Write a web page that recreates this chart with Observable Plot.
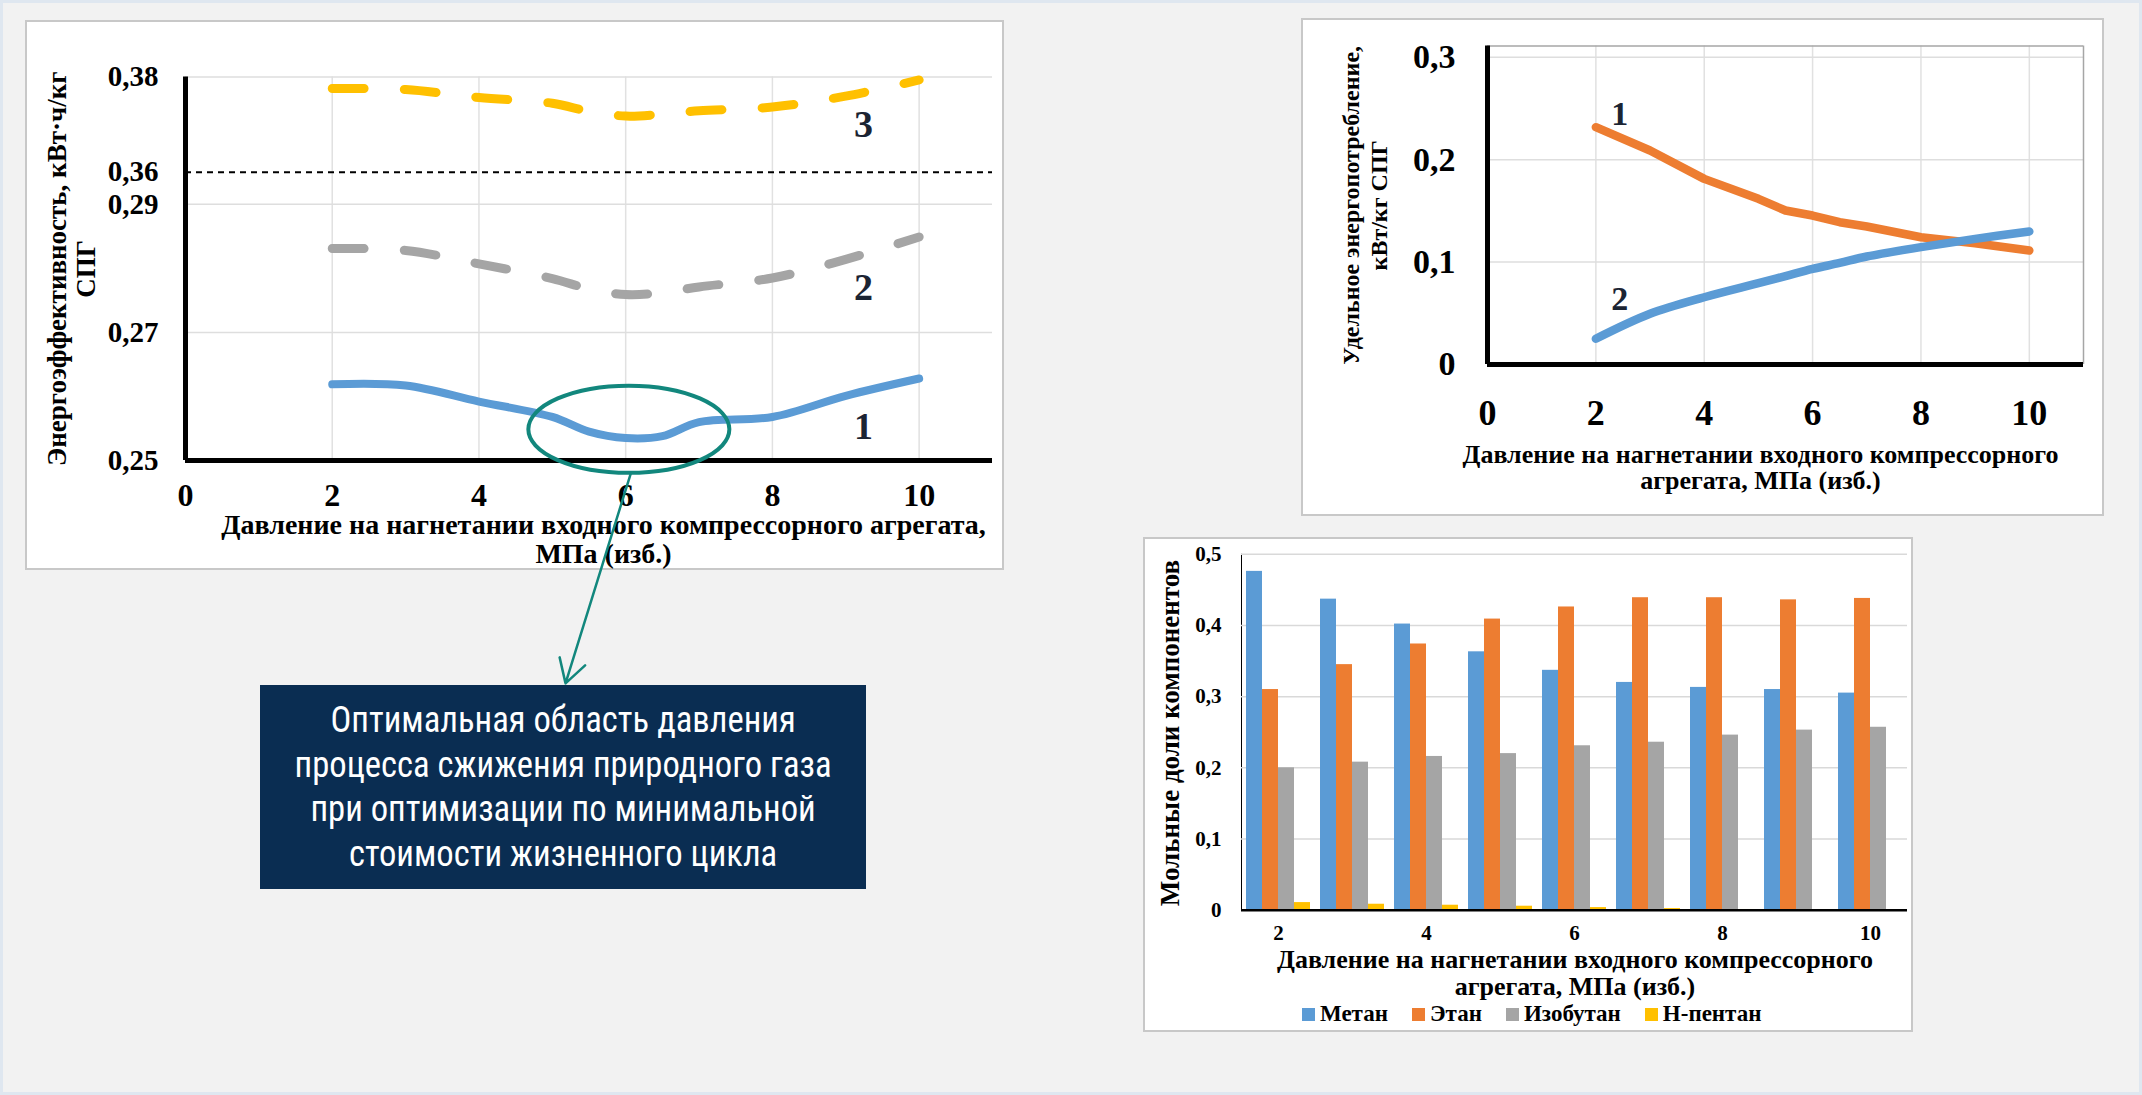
<!DOCTYPE html>
<html>
<head>
<meta charset="utf-8">
<script src="https://cdn.jsdelivr.net/npm/d3@7"></script>
<script src="https://cdn.jsdelivr.net/npm/@observablehq/plot@0.6"></script>
<style>
html, body { margin: 0; padding: 0; width: 2142px; height: 1095px; overflow: hidden; background: #f2f2f2; }
#frame { position: absolute; left: 0; top: 0; width: 2142px; height: 1095px; box-sizing: border-box; border: 3px solid #dfe7f0; }
.panel { position: absolute; box-sizing: border-box; background: #fff; border: 2px solid #c8c8c8; }
.chart { position: absolute; }
.chart svg { display: block; overflow: visible; }
.serif { font-family: "Liberation Serif", "Times New Roman", serif; font-weight: bold; color: #000; }
#callout { position: absolute; left: 260px; top: 685px; width: 606px; height: 204px; background: #0a2d52; color: #fff;
  display: flex; align-items: center; justify-content: center; }
#callout .txt { font-family: "Roboto Condensed", "Open Sans", "Noto Sans", Roboto, sans-serif; font-stretch: condensed;
  font-size: 36px; line-height: 44.5px; text-align: center; white-space: nowrap; transform-origin: center; }
#p3ytitle { position: absolute; left: 1170px; top: 733px; writing-mode: vertical-rl; transform: translate(-50%, -50%) rotate(180deg);
  white-space: nowrap; font-size: 27px; line-height: 30px; }
#p3xtitle { position: absolute; left: 1575px; top: 946px; transform: translateX(-50%); white-space: nowrap; font-size: 26px; line-height: 27px; text-align: center; }
#legend { position: absolute; left: 1302px; top: 1002px; height: 24px; display: flex; align-items: center; font-size: 23px; white-space: nowrap; }
#legend .item { display: flex; align-items: center; margin-right: 24px; }
#legend .sw { display: inline-block; width: 13px; height: 13px; margin-right: 5px; }
</style>
</head>
<body>
<div id="frame"></div>
<div class="panel" style="left:25px;top:20px;width:979px;height:550px;"></div>
<div class="panel" style="left:1301px;top:18px;width:803px;height:498px;"></div>
<div class="panel" style="left:1143px;top:537px;width:770px;height:495px;"></div>
<div id="callout"><div class="txt">
  <div><span>Оптимальная область давления</span></div>
  <div><span>процесса сжижения природного газа</span></div>
  <div><span>при оптимизации по минимальной</span></div>
  <div><span>стоимости жизненного цикла</span></div>
</div></div>
<div id="p1" class="chart" style="left:25px;top:20px;"></div>
<div id="p2" class="chart" style="left:1302px;top:19px;"></div>
<div id="p3" class="chart" style="left:1143px;top:537px;"></div>
<div id="p3ytitle" class="serif">Мольные доли компонентов</div>
<div id="p3xtitle" class="serif">Давление на нагнетании входного компрессорного<br>агрегата, МПа (изб.)</div>
<div id="legend" class="serif"></div>
<script>
const SERIF = '"Liberation Serif", "Times New Roman", serif';
const TEAL = "#12877d";
const NUM_COLOR = "#1b2433";
const fmt = d => String(d).replace(".", ",");

// ---------- Panel 1: energy efficiency ----------
const P1_PRESSURE = [2, 3, 4, 5, 5.5, 6, 6.5, 7, 8, 9, 10];
const P1_CURVE1 = [0.2619, 0.2617, 0.2592, 0.2568, 0.2545, 0.2535, 0.2538, 0.2560, 0.2568, 0.2601, 0.2628];
const P1_CURVE2 = [0.2831, 0.2828, 0.2807, 0.2784, 0.2768, 0.2759, 0.2762, 0.2771, 0.2785, 0.2814, 0.2849];
const P1_CURVE3 = [0.3776, 0.3774, 0.3757, 0.3745, 0.3728, 0.3718, 0.3722, 0.3729, 0.3737, 0.3760, 0.3794];
const P1_Y_BREAKS = [0.25, 0.29, 0.36, 0.38];
const P1_Y_TICKS = [0.25, 0.27, 0.29, 0.36, 0.38];
const P1_Y_GRID = [0.27, 0.29, 0.38];
const P1_X_TICKS = [0, 2, 4, 6, 8, 10];
const P1_X_MAX = 11;
const P1_LABELS = ["1", "2", "3"];
const P1_LABEL_X = [9.24, 9.24, 9.24];
const P1_LABEL_Y = [0.2553, 0.2769, 0.3700];
const HIGHLIGHT_X = [4.68, 7.42];
const HIGHLIGHT_Y = [0.2480, 0.2616];
const ARROW_X = [6.07, 5.18];
const ARROW_Y = [0.2480, 0.2152];

const rows = (xs, ys) => xs.map((x, i) => ({x, y: ys[i]}));

function highlightMark(index, scales) {
  const {x, y} = scales;
  const cx = (x(HIGHLIGHT_X[0]) + x(HIGHLIGHT_X[1])) / 2;
  const cy = (y(HIGHLIGHT_Y[0]) + y(HIGHLIGHT_Y[1])) / 2;
  const rx = Math.abs(x(HIGHLIGHT_X[1]) - x(HIGHLIGHT_X[0])) / 2;
  const ry = Math.abs(y(HIGHLIGHT_Y[0]) - y(HIGHLIGHT_Y[1])) / 2;
  const ns = "http://www.w3.org/2000/svg";
  const g = document.createElementNS(ns, "g");
  const e = document.createElementNS(ns, "ellipse");
  e.setAttribute("cx", cx); e.setAttribute("cy", cy);
  e.setAttribute("rx", rx); e.setAttribute("ry", ry);
  e.setAttribute("fill", "none"); e.setAttribute("stroke", TEAL); e.setAttribute("stroke-width", 4);
  g.appendChild(e);
  return g;
}

const txtStyle = {fontFamily: SERIF, fontWeight: "bold"};

const p1 = Plot.plot({
  width: 979, height: 550,
  marginLeft: 160, marginRight: 12, marginTop: 56.6, marginBottom: 110,
  x: {domain: [0, P1_X_MAX], axis: null},
  y: {type: "linear", domain: P1_Y_BREAKS, range: [440, 183.8, 151.7, 56.6], axis: null},
  style: {background: "transparent", overflow: "visible", color: "#000"},
  marks: [
    Plot.ruleX(P1_X_TICKS.filter(d => d > 0), {y1: P1_Y_BREAKS[0], y2: P1_Y_BREAKS[3], stroke: "#e1e1e1", strokeWidth: 1.5}),
    Plot.ruleY(P1_Y_GRID, {x1: 0, x2: P1_X_MAX, stroke: "#dedede", strokeWidth: 1.5}),
    Plot.ruleY([0.36], {x1: 0, x2: P1_X_MAX, stroke: "#000", strokeWidth: 2, strokeDasharray: "6,5"}),
    Plot.line(rows(P1_PRESSURE, P1_CURVE1), {x: "x", y: "y", stroke: "#5b9bd5", strokeWidth: 8, curve: "catmull-rom", strokeLinecap: "round"}),
    Plot.line(rows(P1_PRESSURE, P1_CURVE2), {x: "x", y: "y", stroke: "#a5a5a5", strokeWidth: 9, curve: "catmull-rom", strokeDasharray: "32,40", strokeLinecap: "round"}),
    Plot.line(rows(P1_PRESSURE, P1_CURVE3), {x: "x", y: "y", stroke: "#ffc000", strokeWidth: 9, curve: "catmull-rom", strokeDasharray: "32,40", strokeLinecap: "round"}),
    Plot.ruleX([0], {y1: P1_Y_BREAKS[0], y2: P1_Y_BREAKS[3], stroke: "#000", strokeWidth: 5}),
    Plot.ruleY([P1_Y_BREAKS[0]], {x1: 0, x2: P1_X_MAX, stroke: "#000", strokeWidth: 5}),
    Plot.text(P1_Y_TICKS, {x: 0, y: d => d, text: d => fmt(d), textAnchor: "end", dx: -27, fontSize: 29, ...txtStyle, fill: "#000"}),
    Plot.text(P1_X_TICKS, {x: d => d, y: P1_Y_BREAKS[0], text: d => String(d), dy: 35, fontSize: 32, ...txtStyle, fill: "#000"}),
    Plot.text(P1_LABELS, {x: (d, i) => P1_LABEL_X[i], y: (d, i) => P1_LABEL_Y[i], text: d => d, fontSize: 38, ...txtStyle, fill: NUM_COLOR}),
    Plot.text(["Давление на нагнетании входного компрессорного агрегата,\nМПа (изб.)"], {frameAnchor: "bottom", textAnchor: "middle", lineAnchor: "middle", dx: 14.5, dy: 78.5, lineHeight: 1.03, fontSize: 28, ...txtStyle, fill: "#000"}),
    Plot.text(["Энергоэффективность, кВт·ч/кг\nСПГ"], {frameAnchor: "left", textAnchor: "middle", lineAnchor: "middle", dx: -114.5, rotate: -90, lineHeight: 1.07, fontSize: 27, ...txtStyle, fill: "#000"}),
    highlightMark,
    Plot.arrow([0], {x1: ARROW_X[0], y1: ARROW_Y[0], x2: ARROW_X[1], y2: ARROW_Y[1], stroke: TEAL, strokeWidth: 2.5, headLength: 16})
  ]
});
document.getElementById("p1").appendChild(p1);

// ---------- Panel 2: specific energy consumption ----------
const P2_PRESSURE = [2, 3, 4, 5, 5.5, 6, 6.5, 7, 8, 9, 10];
const P2_CURVE1 = [0.2318, 0.2090, 0.1813, 0.1618, 0.1504, 0.1455, 0.1390, 0.1348, 0.1243, 0.1185, 0.1113];
const P2_CURVE2 = [0.0251, 0.0495, 0.0657, 0.0794, 0.0864, 0.0934, 0.0992, 0.1055, 0.1146, 0.1227, 0.1299];
const P2_Y_TICKS = [0, 0.1, 0.2, 0.3];
const P2_X_TICKS = [0, 2, 4, 6, 8, 10];
const P2_X_MAX = 11;
const P2_Y_MAX = 0.311;
const P2_LABELS = ["1", "2"];
const P2_LABEL_X = [2.44, 2.44];
const P2_LABEL_Y = [0.245, 0.0635];

const p2 = Plot.plot({
  width: 802, height: 497,
  marginLeft: 185, marginRight: 21, marginTop: 26.6, marginBottom: 152,
  x: {domain: [0, P2_X_MAX], axis: null},
  y: {domain: [0, P2_Y_MAX], axis: null},
  style: {background: "transparent", overflow: "visible", color: "#000"},
  marks: [
    Plot.ruleX(P2_X_TICKS.filter(d => d > 0), {y1: 0, y2: P2_Y_MAX, stroke: "#e1e1e1", strokeWidth: 1.5}),
    Plot.ruleY(P2_Y_TICKS.filter(d => d > 0), {x1: 0, x2: P2_X_MAX, stroke: "#dedede", strokeWidth: 1.5}),
    Plot.ruleY([P2_Y_MAX], {x1: 0, x2: P2_X_MAX, stroke: "#a6a6a6", strokeWidth: 1.5}),
    Plot.ruleX([P2_X_MAX], {y1: 0, y2: P2_Y_MAX, stroke: "#a6a6a6", strokeWidth: 1.5}),
    Plot.line(rows(P2_PRESSURE, P2_CURVE1), {x: "x", y: "y", stroke: "#ed7d31", strokeWidth: 8.5}),
    Plot.line(rows(P2_PRESSURE, P2_CURVE2), {x: "x", y: "y", stroke: "#5b9bd5", strokeWidth: 8.5, curve: "catmull-rom"}),
    Plot.ruleX([0], {y1: 0, y2: P2_Y_MAX, stroke: "#000", strokeWidth: 5}),
    Plot.ruleY([0], {x1: 0, x2: P2_X_MAX, stroke: "#000", strokeWidth: 5}),
    Plot.text(P2_Y_TICKS, {x: 0, y: d => d, text: d => fmt(d), textAnchor: "end", dx: -32, fontSize: 34, ...txtStyle, fill: "#000"}),
    Plot.text(P2_X_TICKS, {x: d => d, y: 0, text: d => String(d), dy: 48.5, fontSize: 36, ...txtStyle, fill: "#000"}),
    Plot.text(P2_LABELS, {x: (d, i) => P2_LABEL_X[i], y: (d, i) => P2_LABEL_Y[i], text: d => d, fontSize: 34, ...txtStyle, fill: NUM_COLOR}),
    Plot.text(["Давление на нагнетании входного компрессорного\nагрегата, МПа (изб.)"], {frameAnchor: "bottom", textAnchor: "middle", lineAnchor: "middle", dx: -25, dy: 103.5, lineHeight: 0.97, fontSize: 26, ...txtStyle, fill: "#000"}),
    Plot.text(["Удельное энергопотребление,\nкВт/кг СПГ"], {frameAnchor: "left", textAnchor: "middle", lineAnchor: "middle", dx: -123.5, rotate: -90, lineHeight: 1.15, fontSize: 24, ...txtStyle, fill: "#000"})
  ]
});
document.getElementById("p2").appendChild(p2);

// ---------- Panel 3: mole fractions ----------
const P3_PRESSURE = [2, 3, 4, 5, 6, 7, 8, 9, 10];
const P3_COMPONENTS = ["Метан", "Этан", "Изобутан", "Н-пентан"];
const P3_COLORS = ["#5b9bd5", "#ed7d31", "#a5a5a5", "#ffc000"];
const P3_METHANE   = [0.476, 0.437, 0.402, 0.363, 0.337, 0.320, 0.313, 0.310, 0.305];
const P3_ETHANE    = [0.310, 0.345, 0.374, 0.409, 0.426, 0.439, 0.439, 0.436, 0.438];
const P3_ISOBUTANE = [0.200, 0.208, 0.216, 0.220, 0.231, 0.236, 0.246, 0.253, 0.257];
const P3_PENTANE   = [0.0107, 0.0084, 0.0070, 0.0056, 0.0037, 0.0023, 0.0010, 0.0005, 0.0003];
const P3_Y_TICKS = [0, 0.1, 0.2, 0.3, 0.4, 0.5];

const P3_SERIES = [P3_METHANE, P3_ETHANE, P3_ISOBUTANE, P3_PENTANE];
const bars = P3_PRESSURE.flatMap((p, i) => P3_COMPONENTS.map((c, j) => ({p, c, v: P3_SERIES[j][i]})));

const p3 = Plot.plot({
  width: 770, height: 460,
  marginLeft: 96, marginRight: 5, marginTop: 16.8, marginBottom: 87.3,
  facet: {data: bars, x: "p"},
  fx: {domain: P3_PRESSURE, padding: 0, axis: "bottom", label: null, tickSize: 0, tickPadding: 15, tickFormat: d => d % 2 === 0 ? String(d) : ""},
  x: {domain: P3_COMPONENTS, paddingInner: 0, paddingOuter: 0.29, axis: null},
  y: {domain: [0, 0.5], ticks: P3_Y_TICKS, tickFormat: fmt, tickSize: 0, tickPadding: 20, label: null, line: true},
  color: {domain: P3_COMPONENTS, range: P3_COLORS},
  style: {background: "transparent", overflow: "visible", color: "#000", fontFamily: SERIF, fontWeight: "bold", fontSize: "21px"},
  marks: [
    Plot.ruleY(P3_Y_TICKS.filter(d => d > 0), {stroke: "#d9d9d9", strokeWidth: 1.5}),
    Plot.barY(bars, {x: "c", y: "v", fill: "c"}),
    Plot.ruleY([0], {stroke: "#000", strokeWidth: 2.5})
  ]
});
document.getElementById("p3").appendChild(p3);

// legend
const legend = document.getElementById("legend");
P3_COMPONENTS.forEach((c, j) => {
  const item = document.createElement("span");
  item.className = "item";
  const sw = document.createElement("span");
  sw.className = "sw";
  sw.style.background = P3_COLORS[j];
  item.appendChild(sw);
  item.appendChild(document.createTextNode(c));
  legend.appendChild(item);
});

// fit callout text width
function fitCallout() {
  const txt = document.querySelector("#callout .txt");
  txt.style.transform = "none";
  let maxW = 0;
  txt.querySelectorAll("span").forEach(s => { maxW = Math.max(maxW, s.getBoundingClientRect().width); });
  if (maxW > 0) txt.style.transform = `scaleX(${537 / maxW})`;
}
fitCallout();
if (document.fonts && document.fonts.ready) document.fonts.ready.then(fitCallout);
</script>
</body>
</html>
